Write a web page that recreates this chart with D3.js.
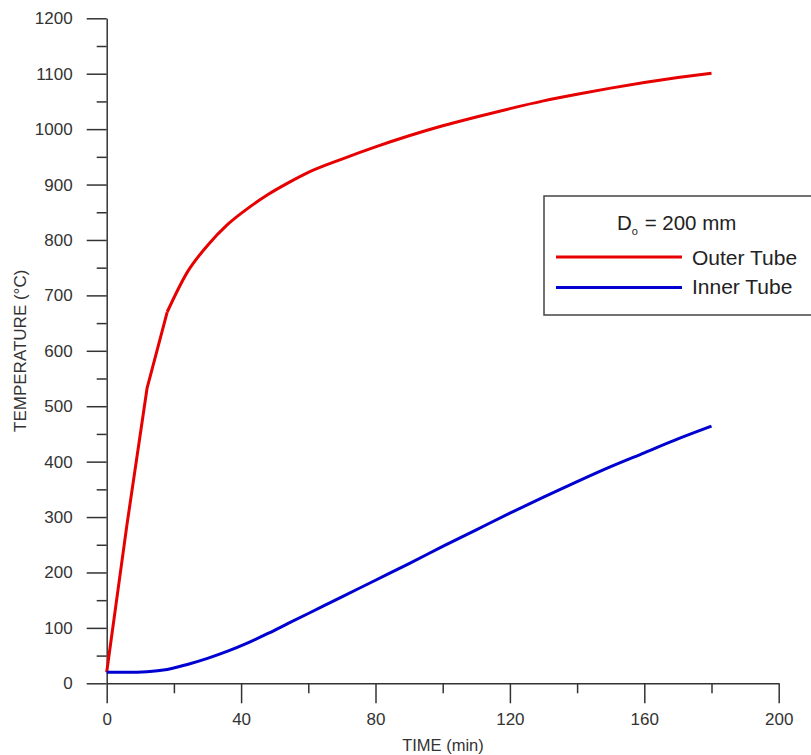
<!DOCTYPE html>
<html lang="en">
<head>
    <meta charset="UTF-8">
    <title>Temperature vs Time</title>
    <script src="https://d3js.org/d3.v7.min.js"></script>
    <style>
        body { margin: 0; background: #fff; overflow: hidden; }
        svg { font-family: "Liberation Sans", Arial, sans-serif; }
        .axis path, .axis line { stroke: #333; stroke-width: 1.5; }
        .axis text { fill: #333; font-size: 17px; }
    </style>
</head>
<body>
    <div id="container"></div>

    <script>
        // Data
        const timeOuter = [0, 6, 12, 18, 24, 30, 36, 42, 48, 54, 60, 70, 80, 90, 100, 110, 120, 130, 140, 150, 160, 170, 180];
        const outerTube = [20, 285, 532, 670, 742, 790, 828, 857, 882, 903, 922, 946, 968, 988, 1006, 1022, 1037, 1051, 1063, 1074, 1084, 1093, 1101];
        const timeInner = [0, 6, 12, 18, 24, 30, 36, 42, 48, 54, 60, 70, 80, 90, 100, 110, 120, 130, 140, 150, 160, 170, 180];
        const innerTube = [20, 20, 21, 25, 34, 45, 58, 73, 90, 108, 126, 156, 186, 216, 247, 277, 307, 336, 364, 391, 416, 441, 464];

        const xTicks = [0, 40, 80, 120, 160, 200];
        const yTicks = [0, 100, 200, 300, 400, 500, 600, 700, 800, 900, 1000, 1100, 1200];

        const width = 811;
        const height = 755;
        const colorOuter = '#e60000';
        const colorInner = '#0000d0';

        const svg = d3.select("#container").append("svg")
            .attr("width", width)
            .attr("height", height);

        const x = d3.scaleLinear().domain([0, 200]).range([106.7, 778.7]);
        const y = d3.scaleLinear().domain([0, 1200]).range([683.3, 18.3]);

        // Minor ticks first
        svg.append("g")
            .attr("class", "axis")
            .attr("transform", `translate(0,${y(0)})`)
            .call(d3.axisBottom(x).tickValues(d3.range(20, 200, 40)).tickSize(10).tickFormat(""))
            .call(g => g.select(".domain").remove());

        svg.append("g")
            .attr("class", "axis")
            .attr("transform", `translate(${x(0)},0)`)
            .call(d3.axisLeft(y).tickValues(d3.range(50, 1200, 100)).tickSize(10).tickFormat(""))
            .call(g => g.select(".domain").remove());

        // Major ticks + axis lines
        svg.append("g")
            .attr("class", "axis")
            .attr("transform", `translate(0,${y(0)})`)
            .call(d3.axisBottom(x).tickValues(xTicks).tickSize(20).tickSizeOuter(0).tickPadding(10).tickFormat(d3.format("d")));

        svg.append("g")
            .attr("class", "axis")
            .attr("transform", `translate(${x(0)},0)`)
            .call(d3.axisLeft(y).tickValues(yTicks).tickSize(20).tickSizeOuter(0).tickPadding(14).tickFormat(d3.format("d")));

        // Axis titles
        svg.append("text")
            .attr("x", 443)
            .attr("y", 751)
            .attr("text-anchor", "middle")
            .attr("fill", "#333")
            .style("font-size", "16.5px")
            .text("TIME (min)");

        svg.append("text")
            .attr("transform", `translate(26,${y(600)}) rotate(-90)`)
            .attr("text-anchor", "middle")
            .attr("fill", "#333")
            .style("font-size", "17px")
            .text("TEMPERATURE (°C)");

        // Curves: the outer tube's first minutes are straight segments, the rest is smooth
        const lineLinear = d3.line().x(d => x(d[0])).y(d => y(d[1]));
        const lineSmooth = d3.line().x(d => x(d[0])).y(d => y(d[1])).curve(d3.curveMonotoneX);

        const outerPts = timeOuter.map((t, i) => [t, outerTube[i]]);
        const innerPts = timeInner.map((t, i) => [t, innerTube[i]]);

        svg.append("path")
            .datum(outerPts.filter(d => d[0] <= 18))
            .attr("d", lineLinear)
            .attr("fill", "none")
            .attr("stroke", colorOuter)
            .attr("stroke-width", 3)
            .attr("stroke-linejoin", "round");

        svg.append("path")
            .datum(outerPts.filter(d => d[0] >= 18))
            .attr("d", lineSmooth)
            .attr("fill", "none")
            .attr("stroke", colorOuter)
            .attr("stroke-width", 3)
            .attr("stroke-linejoin", "round");

        svg.append("path")
            .datum(innerPts)
            .attr("d", lineSmooth)
            .attr("fill", "none")
            .attr("stroke", colorInner)
            .attr("stroke-width", 3)
            .attr("stroke-linejoin", "round");

        // Legend (box runs off the right edge, as in the original)
        const legend = svg.append("g");
        legend.append("rect")
            .attr("x", 544).attr("y", 196)
            .attr("width", 280).attr("height", 119)
            .attr("fill", "#fff")
            .attr("stroke", "#444")
            .attr("stroke-width", 1.5);

        const title = legend.append("text")
            .attr("x", 617).attr("y", 230)
            .attr("fill", "#222")
            .style("font-size", "20.5px");
        title.append("tspan").text("D");
        title.append("tspan").attr("dy", 5).style("font-size", "11px").text("o");
        title.append("tspan").attr("dy", -5).attr("dx", 1).text(" = 200 mm");

        const items = [
            { label: "Outer Tube", color: colorOuter, y: 257, base: 265 },
            { label: "Inner Tube", color: colorInner, y: 287.5, base: 293.5 }
        ];
        items.forEach(it => {
            legend.append("line")
                .attr("x1", 556).attr("x2", 682)
                .attr("y1", it.y).attr("y2", it.y)
                .attr("stroke", it.color)
                .attr("stroke-width", 3);
            legend.append("text")
                .attr("x", 692).attr("y", it.base)
                .attr("fill", "#222")
                .style("font-size", "21px")
                .text(it.label);
        });
    </script>
</body>
</html>
